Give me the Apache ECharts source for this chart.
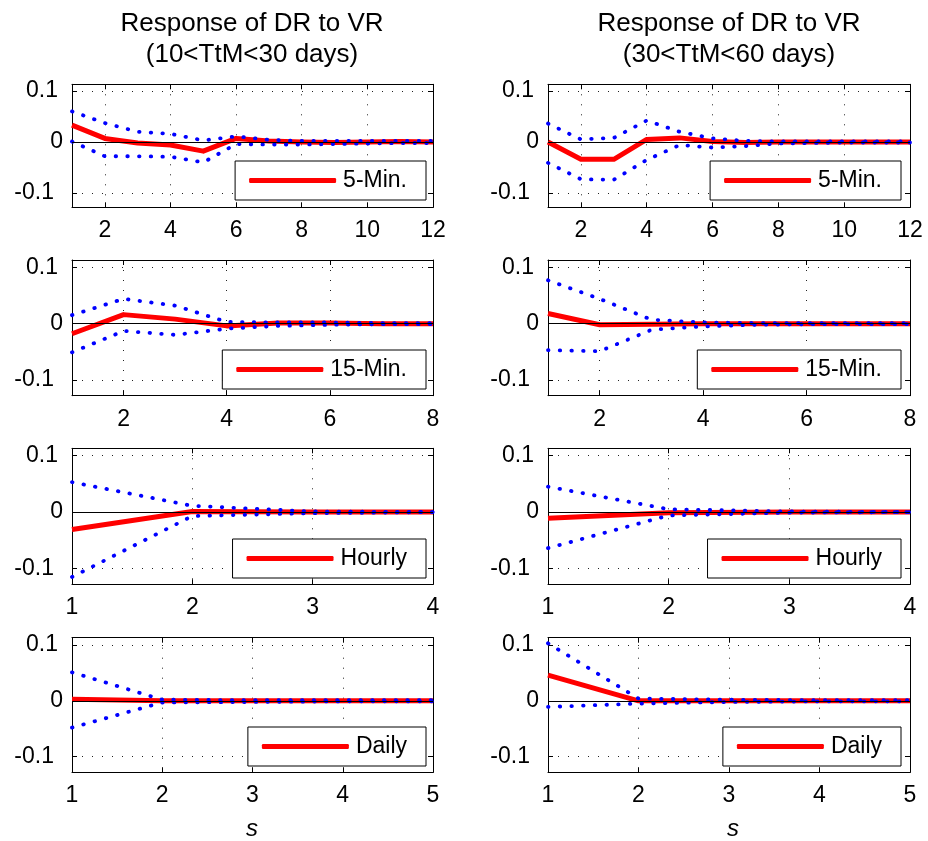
<!DOCTYPE html>
<html><head><meta charset="utf-8">
<script src="https://cdn.jsdelivr.net/npm/echarts@6/dist/echarts.min.js"></script>
<style>html,body{margin:0;padding:0;background:#fff}#c{width:928px;height:841px}</style>
</head><body><div id="c"></div>
<script>
// ---- data ----
const steps12 = [1,2,3,4,5,6,7,8,9,10,11,12];
const steps8 = [1,2,3,4,5,6,7,8];
const steps4 = [1,2,3,4];
const steps5 = [1,2,3,4,5];

const xt12 = [2,4,6,8,10,12];
const xt8 = [2,4,6,8];
const xt4 = [1,2,3,4];
const xt5 = [1,2,3,4,5];
const yTicks = [-0.1, 0, 0.1];

const titleLeft = 'Response of DR to VR\n(10<TtM<30 days)';
const titleRight = 'Response of DR to VR\n(30<TtM<60 days)';
const xLabel = 's';
const freqNames = ['5-Min.', '15-Min.', 'Hourly', 'Daily'];

// 5-Min.
const irf5L = [0.033, 0.007, -0.002, -0.006, -0.018, 0.007, 0.002, 0.000, -0.001, 0.000, 0.001, 0.000];
const up5L  = [0.060, 0.037, 0.020, 0.016, 0.003, 0.011, 0.004, 0.002, 0.002, 0.002, 0.002, 0.002];
const lo5L  = [0.001, -0.028, -0.028, -0.029, -0.040, -0.004, -0.005, -0.005, -0.004, -0.003, -0.002, -0.002];
const irf5R = [0.000, -0.034, -0.034, 0.005, 0.008, 0.001, -0.001, 0.000, 0.000, 0.000, 0.000, 0.000];
const up5R  = [0.036, 0.005, 0.008, 0.042, 0.020, 0.007, 0.002, 0.001, 0.001, 0.001, 0.001, 0.001];
const lo5R  = [-0.041, -0.073, -0.074, -0.035, -0.006, -0.011, -0.008, -0.003, -0.002, -0.001, -0.001, -0.001];
// 15-Min.
const irf15L = [-0.018, 0.016, 0.008, -0.004, 0.001, 0.001, 0.000, 0.000];
const up15L  = [0.015, 0.044, 0.032, 0.003, 0.002, 0.002, 0.001, 0.001];
const lo15L  = [-0.051, -0.013, -0.020, -0.009, -0.004, -0.002, -0.001, -0.001];
const irf15R = [0.018, -0.002, -0.001, 0.000, 0.000, 0.000, 0.000, 0.000];
const up15R  = [0.077, 0.044, 0.007, 0.002, 0.001, 0.001, 0.001, 0.001];
const lo15R  = [-0.047, -0.049, -0.011, -0.005, -0.002, -0.001, -0.001, -0.001];
// Hourly
const irfHL = [-0.031, 0.001, 0.000, 0.000];
const upHL  = [0.053, 0.011, 0.001, 0.000];
const loHL  = [-0.115, -0.007, -0.002, 0.000];
const irfHR = [-0.011, -0.001, 0.000, 0.000];
const upHR  = [0.045, 0.005, 0.001, 0.000];
const loHR  = [-0.064, -0.006, -0.001, 0.000];
// Daily
const irfDL = [0.003, 0.000, 0.000, 0.000, 0.000];
const upDL  = [0.051, 0.002, 0.001, 0.001, 0.001];
const loDL  = [-0.048, -0.003, -0.002, -0.001, -0.001];
const irfDR = [0.046, 0.000, 0.000, 0.000, 0.000];
const upDR  = [0.103, 0.004, 0.002, 0.001, 0.001];
const loDR  = [-0.011, -0.005, -0.002, -0.001, -0.001];

// ---- layout ----
const panels = [
  {xs: steps12, irf: irf5L, up: up5L, lo: lo5L, xt: xt12, row: 0, col: 0},
  {xs: steps12, irf: irf5R, up: up5R, lo: lo5R, xt: xt12, row: 0, col: 1},
  {xs: steps8, irf: irf15L, up: up15L, lo: lo15L, xt: xt8, row: 1, col: 0},
  {xs: steps8, irf: irf15R, up: up15R, lo: lo15R, xt: xt8, row: 1, col: 1},
  {xs: steps4, irf: irfHL, up: upHL, lo: loHL, xt: xt4, row: 2, col: 0},
  {xs: steps4, irf: irfHR, up: upHR, lo: loHR, xt: xt4, row: 2, col: 1},
  {xs: steps5, irf: irfDL, up: upDL, lo: loDL, xt: xt5, row: 3, col: 0},
  {xs: steps5, irf: irfDR, up: upDR, lo: loDR, xt: xt5, row: 3, col: 1}
];
const colLeft = [72, 548], colW = [361, 362];
const rowTop = [84.3, 260, 448.3, 637.7], rowH = [123, 135.7, 136, 134.6];
const legTop = [161, 350, 539, 727];
const legRight = [502, 27];
const FONT = 'Liberation Sans, Arial, Helvetica, sans-serif';
const FS = 23;

const grid = [], xAxis = [], yAxis = [], series = [], legend = [];
panels.forEach((p, g) => {
  grid.push({left: colLeft[p.col], top: rowTop[p.row], width: colW[p.col], height: rowH[p.row]});
  const xmin = p.xs[0], xmax = p.xs[p.xs.length - 1];
  const tickCommon = {show: true, inside: true, length: 5, lineStyle: {color: '#000', width: 1}};
  xAxis.push({
    type: 'value', gridIndex: g, min: xmin, max: xmax, position: 'bottom',
    axisLine: {show: true, onZero: false, lineStyle: {color: '#000', width: 1}},
    axisTick: Object.assign({customValues: p.xt}, tickCommon),
    axisLabel: {customValues: p.xt, color: '#000', fontSize: FS, fontFamily: FONT, margin: 12,
      showMinLabel: true, showMaxLabel: true, hideOverlap: false},
    splitLine: {show: true, lineStyle: {color: '#222', width: 1, type: [1, 9]}}
  });
  xAxis.push({
    type: 'value', gridIndex: g, min: xmin, max: xmax, position: 'top',
    axisLine: {show: true, onZero: false, lineStyle: {color: '#000', width: 1}},
    axisTick: Object.assign({customValues: p.xt}, tickCommon),
    axisLabel: {show: false}, splitLine: {show: false}
  });
  yAxis.push({
    type: 'value', gridIndex: g, min: -0.128, max: 0.113, position: 'left',
    axisLine: {show: true, onZero: false, lineStyle: {color: '#000', width: 1}},
    axisTick: Object.assign({customValues: yTicks}, tickCommon),
    axisLabel: {customValues: yTicks, color: '#000', fontSize: FS, fontFamily: FONT, margin: 9,
      showMinLabel: true, showMaxLabel: true,
      formatter: v => v === 0 ? '{z|0}' : (v > 0 ? '{p|' + v + '}' : '{n|' + v + '}'),
      rich: {
        z: {fontSize: FS, fontFamily: FONT, color: '#000'},
        p: {fontSize: FS, fontFamily: FONT, color: '#000', padding: [0, 5, 0, 0]},
        n: {fontSize: FS, fontFamily: FONT, color: '#000', padding: [0, 9, 0, 0]}
      }},
    splitLine: {show: true, lineStyle: {color: '#222', width: 1, type: [1, 9]}}
  });
  yAxis.push({
    type: 'value', gridIndex: g, min: -0.128, max: 0.113, position: 'right',
    axisLine: {show: true, onZero: false, lineStyle: {color: '#000', width: 1}},
    axisTick: Object.assign({customValues: yTicks}, tickCommon),
    axisLabel: {show: false}, splitLine: {show: false}
  });
  const name = freqNames[p.row];
  series.push({
    name: name, type: 'line', xAxisIndex: 2 * g, yAxisIndex: 2 * g,
    data: p.xs.map((x, i) => [x, p.irf[i]]), showSymbol: false, symbol: 'none',
    lineStyle: {color: '#ff0000', width: 5, join: 'round'}, itemStyle: {color: '#ff0000'},
    z: 2, silent: true, animation: false,
    markLine: {silent: true, symbol: 'none', label: {show: false}, animation: false,
      lineStyle: {color: '#000', width: 1, type: 'solid'}, data: [{yAxis: 0}]}
  });
  [p.up, p.lo].forEach((arr, k) => {
    series.push({
      name: 'band' + g + '_' + k, type: 'line', xAxisIndex: 2 * g, yAxisIndex: 2 * g,
      data: p.xs.map((x, i) => [x, arr[i]]), showSymbol: false, symbol: 'none',
      lineStyle: {color: '#0000ff', width: 3.8, type: [0.5, 11.2], cap: 'round'},
      z: 4, silent: true, animation: false
    });
  });
  legend.push({
    data: [name], right: legRight[p.col], top: legTop[p.row], orient: 'horizontal',
    backgroundColor: '#fff', borderColor: '#000', borderWidth: 1, borderRadius: 0,
    padding: [8, 19, 8, 14], itemWidth: 87, itemHeight: 5, icon: 'roundRect',
    selectedMode: false,
    textStyle: {color: '#000', fontSize: FS, fontFamily: FONT, padding: [0, 0, 0, 2]}
  });
});

const graphic = [
  {type: 'text', x: 252, y: 8, style: {text: titleLeft, font: '26px ' + FONT, fill: '#000', align: 'center', lineHeight: 31}},
  {type: 'text', x: 729, y: 8, style: {text: titleRight, font: '26px ' + FONT, fill: '#000', align: 'center', lineHeight: 31}},
  {type: 'text', x: 252, y: 817, style: {text: xLabel, font: 'italic 24px ' + FONT, fill: '#000', align: 'center'}},
  {type: 'text', x: 733, y: 817, style: {text: xLabel, font: 'italic 24px ' + FONT, fill: '#000', align: 'center'}}
];

const chart = echarts.init(document.getElementById('c'), null, {renderer: 'canvas'});
chart.setOption({
  animation: false, backgroundColor: '#fff',
  grid: grid, xAxis: xAxis, yAxis: yAxis, series: series, legend: legend, graphic: graphic
});
</script></body></html>
